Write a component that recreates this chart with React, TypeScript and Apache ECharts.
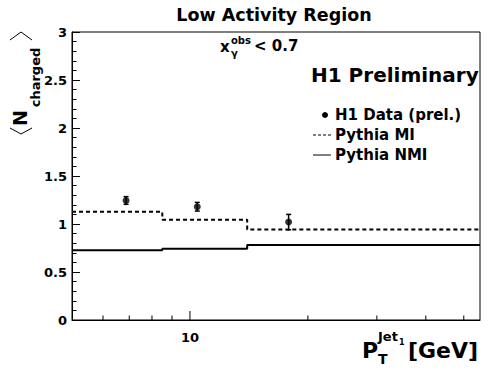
import React, { useEffect, useRef } from "react";
import * as echarts from "echarts";

// ---- data ----
const binEdges = [5, 8.5, 14, 55];
const pythiaMI = [1.128, 1.045, 0.944];
const pythiaNMI = [0.726, 0.743, 0.781];
const dataX = [6.87, 10.44, 17.86];
const dataY = [1.245, 1.18, 1.02];
const dataErr = [0.04, 0.045, 0.08];
const xTickValues = [6, 7, 8, 9, 10, 20, 30, 40, 50];
const xMajorTicks = [10];
const xTickLabels = ["10"];
const yMin = 0;
const yMax = 3;
const yInterval = 0.5;

const FONT = '"DejaVu Sans", "Liberation Sans", sans-serif';

function stepData(values: number[]) {
  return binEdges.map((e, i) => [e, values[Math.min(i, values.length - 1)]]);
}

export default function App() {
  const ref = useRef<HTMLDivElement>(null);
  useEffect(() => {
    if (!ref.current) return;
    const chart = echarts.init(ref.current, undefined, { renderer: "svg" });
    const option: any = {
      animation: false,
      backgroundColor: "#fff",
      grid: {
        left: 72,
        right: 11,
        top: 32,
        bottom: 54,
        show: true,
        borderColor: "#000",
        borderWidth: 1,
        containLabel: false,
        outerBoundsMode: "none",
      },
      xAxis: {
        type: "log",
        logBase: 10,
        min: binEdges[0],
        max: binEdges[binEdges.length - 1],
        axisLine: { show: true, lineStyle: { color: "#000", width: 1 } },
        axisTick: { show: false },
        axisLabel: { show: false },
        splitLine: { show: false },
        minorTick: { show: false },
      },
      yAxis: {
        type: "value",
        min: yMin,
        max: yMax,
        interval: yInterval,
        axisLine: { show: true, lineStyle: { color: "#000", width: 1 } },
        axisTick: { show: true, inside: true, length: 8, lineStyle: { color: "#000" } },
        minorTick: { show: true, splitNumber: 5, length: 4.5, lineStyle: { color: "#000" } },
        splitLine: { show: false },
        axisLabel: {
          color: "#000",
          fontFamily: FONT,
          fontWeight: "bold",
          fontSize: 13,
          margin: 5,
        },
      },
      series: [
        {
          name: "Pythia MI",
          type: "line",
          step: "end",
          data: stepData(pythiaMI),
          symbol: "none",
          lineStyle: { color: "#000", width: 2, type: [4, 3] },
          z: 2,
        },
        {
          name: "Pythia NMI",
          type: "line",
          step: "end",
          data: stepData(pythiaNMI),
          symbol: "none",
          lineStyle: { color: "#000", width: 2, type: "solid" },
          z: 2,
        },
        {
          name: "H1 Data errors",
          type: "custom",
          clip: false,
          data: dataX.map((x, i) => [x, dataY[i], dataErr[i]]),
          encode: { x: 0, y: 1 },
          renderItem: (params: any, api: any) => {
            const x = api.value(0);
            const y = api.value(1);
            const e = api.value(2);
            const lo = api.coord([x, y - e]);
            const hi = api.coord([x, y + e]);
            const cap = 2.5;
            const st = { stroke: "#000", lineWidth: 1.5 };
            return {
              type: "group",
              children: [
                { type: "line", shape: { x1: lo[0], y1: lo[1], x2: hi[0], y2: hi[1] }, style: st },
                { type: "line", shape: { x1: lo[0] - cap, y1: lo[1], x2: lo[0] + cap, y2: lo[1] }, style: st },
                { type: "line", shape: { x1: hi[0] - cap, y1: hi[1], x2: hi[0] + cap, y2: hi[1] }, style: st },
              ],
            };
          },
          z: 3,
        },
        {
          name: "H1 Data (prel.)",
          type: "scatter",
          data: dataX.map((x, i) => [x, dataY[i]]),
          symbol: "circle",
          symbolSize: 7,
          itemStyle: { color: "#000" },
          z: 4,
        },
        {
          name: "x ticks",
          type: "custom",
          clip: false,
          silent: true,
          data: xTickValues.map((v) => [v, yMin]),
          encode: { x: 0, y: 1 },
          renderItem: (params: any, api: any) => {
            const v = api.value(0);
            const p = api.coord([v, yMin]);
            const mi = xMajorTicks.indexOf(v);
            const major = mi >= 0;
            const len = major ? 9 : 4.5;
            const children: any[] = [
              {
                type: "line",
                shape: { x1: p[0], y1: p[1], x2: p[0], y2: p[1] - len },
                style: { stroke: "#000", lineWidth: 1 },
              },
            ];
            if (major) {
              children.push({
                type: "text",
                x: p[0],
                y: p[1] + 17,
                style: {
                  text: xTickLabels[mi],
                  font: `bold 13px ${FONT}`,
                  fill: "#000",
                  textAlign: "center",
                  textVerticalAlign: "middle",
                },
              });
            }
            return { type: "group", children };
          },
          z: 5,
        },
      ],
      graphic: [
        {
          type: "text",
          x: 274,
          y: 15,
          style: {
            text: "Low Activity Region",
            font: `bold 17.5px ${FONT}`,
            fill: "#000",
            textAlign: "center",
            textVerticalAlign: "middle",
          },
        },
        // x_gamma^obs < 0.7
        { type: "text", x: 220, y: 47, style: { text: "x", font: `bold 15px ${FONT}`, fill: "#000", textAlign: "left", textVerticalAlign: "middle" } },
        { type: "text", x: 231, y: 40, style: { text: "obs", font: `bold 10px ${FONT}`, fill: "#000", textAlign: "left", textVerticalAlign: "middle" } },
        { type: "text", x: 231, y: 53, style: { text: "γ", font: `bold 10px ${FONT}`, fill: "#000", textAlign: "left", textVerticalAlign: "middle" } },
        { type: "text", x: 254, y: 46, style: { text: "< 0.7", font: `bold 15px ${FONT}`, fill: "#000", textAlign: "left", textVerticalAlign: "middle" } },
        // H1 Preliminary
        { type: "text", x: 311, y: 75, style: { text: "H1 Preliminary", font: `bold 20px ${FONT}`, fill: "#000", textAlign: "left", textVerticalAlign: "middle" } },
        // legend
        { type: "circle", shape: { cx: 325, cy: 115, r: 3 }, style: { fill: "#000" } },
        { type: "text", x: 335, y: 115, style: { text: "H1 Data (prel.)", font: `bold 15px ${FONT}`, fill: "#000", textAlign: "left", textVerticalAlign: "middle" } },
        { type: "line", shape: { x1: 313, y1: 135, x2: 331, y2: 135 }, style: { stroke: "#000", lineWidth: 1, lineDash: [3, 2] } },
        { type: "text", x: 335, y: 135, style: { text: "Pythia MI", font: `bold 15px ${FONT}`, fill: "#000", textAlign: "left", textVerticalAlign: "middle" } },
        { type: "line", shape: { x1: 313, y1: 155, x2: 331, y2: 155 }, style: { stroke: "#000", lineWidth: 1 } },
        { type: "text", x: 335, y: 155, style: { text: "Pythia NMI", font: `bold 15px ${FONT}`, fill: "#000", textAlign: "left", textVerticalAlign: "middle" } },
        // y axis title <N_charged>
        { type: "polyline", shape: { points: [[10, 40], [21, 32], [32, 40]] }, style: { stroke: "#000", lineWidth: 1, fill: "none" } },
        { type: "polyline", shape: { points: [[10, 128], [21, 134], [32, 128]] }, style: { stroke: "#000", lineWidth: 1, fill: "none" } },
        { type: "text", x: 19.5, y: 118, rotation: Math.PI / 2, style: { text: "N", font: `bold 19px ${FONT}`, fill: "#000", textAlign: "center", textVerticalAlign: "middle" } },
        { type: "text", x: 35, y: 77.5, rotation: Math.PI / 2, style: { text: "charged", font: `bold 13px ${FONT}`, fill: "#000", textAlign: "center", textVerticalAlign: "middle" } },
        // x axis title P_T^{Jet_1} [GeV]
        { type: "text", x: 362, y: 350, style: { text: "P", font: `bold 22px ${FONT}`, fill: "#000", textAlign: "left", textVerticalAlign: "middle" } },
        { type: "text", x: 378, y: 359, style: { text: "T", font: `bold 14px ${FONT}`, fill: "#000", textAlign: "left", textVerticalAlign: "middle" } },
        { type: "text", x: 378, y: 336, style: { text: "Jet", font: `bold 13px ${FONT}`, fill: "#000", textAlign: "left", textVerticalAlign: "middle" } },
        { type: "text", x: 399, y: 342, style: { text: "1", font: `bold 8px ${FONT}`, fill: "#000", textAlign: "left", textVerticalAlign: "middle" } },
        { type: "text", x: 408, y: 350, style: { text: "[GeV]", font: `bold 22px ${FONT}`, fill: "#000", textAlign: "left", textVerticalAlign: "middle" } },
      ],
    };
    chart.setOption(option);
    return () => chart.dispose();
  }, []);
  return (
    <div
      ref={ref}
      style={{ position: "fixed", left: 0, top: 0, width: 491, height: 374, background: "#fff" }}
    />
  );
}
